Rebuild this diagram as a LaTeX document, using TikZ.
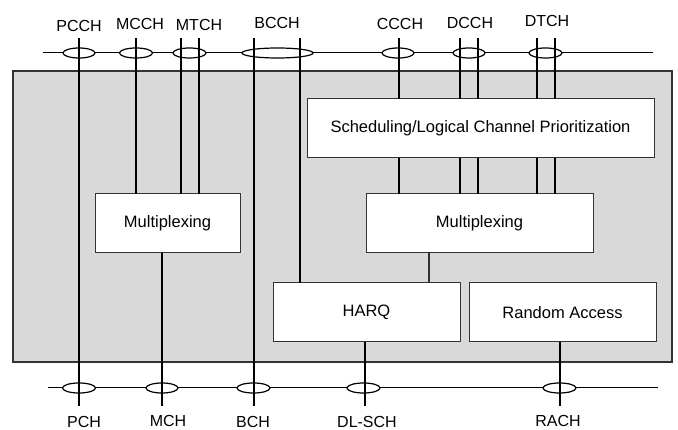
\documentclass[tikz,border=0pt]{standalone}
\usepackage{fontspec}
\setmainfont{Liberation Sans}
\usetikzlibrary{shapes.geometric}
\definecolor{macgray}{HTML}{D9D9D9}
\definecolor{edge}{HTML}{333333}
\begin{document}
\begin{tikzpicture}[x=1pt,y=-1pt,
  lbl/.style={font=\fontsize{16}{18}\selectfont, inner sep=0},
  box/.style={draw=edge, fill=white, line width=1pt, font=\fontsize{16.5}{18}\selectfont, inner sep=0, outer sep=0},
  chan/.style={line width=2pt},
  bus/.style={line width=1pt},
  oval/.style={ellipse, draw, fill=white, line width=1.2pt, minimum height=10pt, inner sep=0, outer sep=0}]
\useasboundingbox (0,0) rectangle (678,430);

% buses
\coordinate (tbusL) at (43,53);
\coordinate (tbusR) at (653,53);
\coordinate (bbusL) at (48,388);
\coordinate (bbusR) at (658,388);
\draw[bus] (tbusL) -- (tbusR);
\draw[bus] (bbusL) -- (bbusR);

% MAC entity
\node (mac) [draw=edge, fill=macgray, line width=1.2pt, minimum width=659pt, minimum height=291pt, inner sep=0, outer sep=0] at (342.5,216.5) {};

% ovals top
\node[oval, minimum width=32pt] (pcch-o) at (79,53) {};
\node[oval, minimum width=33pt] (mcch-o) at (136,53) {};
\node[oval, minimum width=33pt] (mtch-o) at (189.5,53) {};
\node[oval, minimum width=71pt] (bcch-o) at (277.5,53) {};
\node[oval, minimum width=32pt] (ccch-o) at (398,53) {};
\node[oval, minimum width=32pt] (dcch-o) at (469,53) {};
\node[oval, minimum width=33pt] (dtch-o) at (545.5,53) {};
% ovals bottom
\node[oval, minimum width=33pt] (pch-o) at (79,388) {};
\node[oval, minimum width=32pt] (mch-o) at (162,388) {};
\node[oval, minimum width=33pt] (bch-o) at (253.5,388) {};
\node[oval, minimum width=33pt] (dlsch-o) at (363.5,388) {};
\node[oval, minimum width=33pt] (rach-o) at (559.5,388) {};

% boxes
\node[box, minimum width=347pt, minimum height=59pt] (sched) at (480.5,128.5) {Scheduling/Logical Channel Prioritization};
\node[box, minimum width=145pt, minimum height=59pt] (mux1) at (167.5,223.5) {Multiplexing};
\node[box, minimum width=227pt, minimum height=59pt] (mux2) at (479.5,223.5) {Multiplexing};
\node[box, minimum width=187pt, minimum height=59pt] (harq) at (366.5,312.5) {HARQ};
\node[box, minimum width=187pt, minimum height=59pt] (ra) at (562.5,312.5) {Random Access};

% channel ends
\coordinate (pcch) at (79,38);
\coordinate (mcch) at (136,38);
\coordinate (mtcha) at (181,38);
\coordinate (mtchb) at (199,38);
\coordinate (bccha) at (254,38);
\coordinate (bcchb) at (300,38);
\coordinate (ccch) at (399,38);
\coordinate (dccha) at (460,38);
\coordinate (dcchb) at (478,38);
\coordinate (dtcha) at (537,38);
\coordinate (dtchb) at (555,38);
\coordinate (pch) at (79,406);
\coordinate (mch) at (162,406);
\coordinate (bch) at (254,406);
\coordinate (dlsch) at (365,406);
\coordinate (rach) at (560,406);
\coordinate (muxharq) at (429,0);

% channel lines
\draw[chan] (pcch) -- (pch);
\draw[chan] (mcch) -- (mcch |- mux1.north);
\draw[chan] (mtcha) -- (mtcha |- mux1.north);
\draw[chan] (mtchb) -- (mtchb |- mux1.north);
\draw[chan] (mux1.south -| mch) -- (mch);
\draw[chan] (bccha) -- (bch);
\draw[chan] (bcchb) -- (bcchb |- harq.north);
\foreach \c in {ccch,dccha,dcchb,dtcha,dtchb}{
  \draw[chan] (\c) -- (\c |- sched.north);
  \draw[chan] (\c |- sched.south) -- (\c |- mux2.north);
}
\draw[line width=1.2pt, draw=edge] (mux2.south -| muxharq) -- (harq.north -| muxharq);
\draw[chan] (harq.south -| dlsch) -- (dlsch);
\draw[chan] (ra.south -| rach) -- (rach);

% labels
\node[lbl] (l-pcch) at (79,25.5) {PCCH};
\node[lbl] (l-mcch) at (140,24) {MCCH};
\node[lbl] (l-mtch) at (199,25) {MTCH};
\node[lbl] (l-bcch) at (277,23) {BCCH};
\node[lbl] (l-ccch) at (400,23.5) {CCCH};
\node[lbl] (l-dcch) at (470,22.5) {DCCH};
\node[lbl] (l-dtch) at (547,20.5) {DTCH};
\node[lbl] (l-pch) at (84,422) {PCH};
\node[lbl] (l-mch) at (168,421) {MCH};
\node[lbl] (l-bch) at (253,422) {BCH};
\node[lbl] (l-dlsch) at (367,422) {DL-SCH};
\node[lbl] (l-rach) at (558,421) {RACH};
\end{tikzpicture}
\end{document}
